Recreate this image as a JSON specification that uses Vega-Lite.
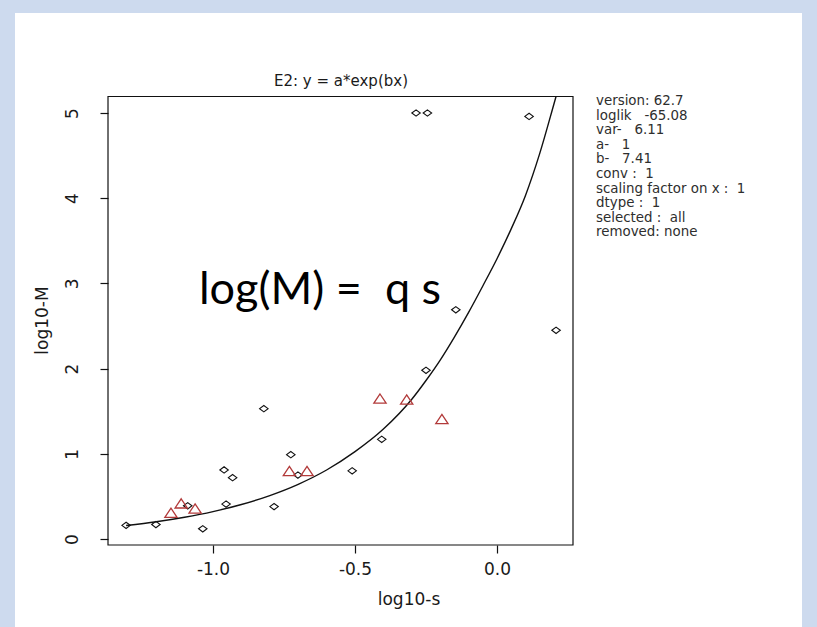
{
  "$schema": "https://vega.github.io/schema/vega-lite/v6.json",
  "width": 787,
  "height": 614,
  "autosize": {"type": "none"},
  "padding": {"left": 15, "top": 13, "right": 15, "bottom": 0},
  "background": "#cddaee",
  "config": {
    "view": {"fill": "white", "stroke": null},
    "locale": {"number": {"decimal": ".", "thousands": ",", "grouping": [3], "currency": ["", ""], "minus": "-"}}
  },
  "datasets": {
    "frame": [
      {"ls": -1.3697, "ls2": 0.2676, "lm": -0.0704, "lm2": 5.1937}
    ],
    "points": [
      {"series": "A", "ls": -1.306, "lm": 0.16},
      {"series": "A", "ls": -1.201, "lm": 0.17},
      {"series": "A", "ls": -1.089, "lm": 0.39},
      {"series": "A", "ls": -1.036, "lm": 0.12},
      {"series": "A", "ls": -0.961, "lm": 0.81},
      {"series": "A", "ls": -0.931, "lm": 0.72},
      {"series": "A", "ls": -0.954, "lm": 0.41},
      {"series": "A", "ls": -0.821, "lm": 1.53},
      {"series": "A", "ls": -0.785, "lm": 0.38},
      {"series": "A", "ls": -0.726, "lm": 0.99},
      {"series": "A", "ls": -0.701, "lm": 0.75},
      {"series": "A", "ls": -0.510, "lm": 0.80},
      {"series": "A", "ls": -0.406, "lm": 1.17},
      {"series": "A", "ls": -0.250, "lm": 1.98},
      {"series": "A", "ls": -0.145, "lm": 2.69},
      {"series": "A", "ls": 0.208, "lm": 2.45},
      {"series": "A", "ls": -0.285, "lm": 5.00},
      {"series": "A", "ls": -0.245, "lm": 5.00},
      {"series": "A", "ls": 0.113, "lm": 4.96},
      {"series": "B", "ls": -1.148, "lm": 0.29},
      {"series": "B", "ls": -1.112, "lm": 0.40},
      {"series": "B", "ls": -1.063, "lm": 0.34},
      {"series": "B", "ls": -0.731, "lm": 0.78},
      {"series": "B", "ls": -0.669, "lm": 0.78},
      {"series": "B", "ls": -0.412, "lm": 1.63},
      {"series": "B", "ls": -0.318, "lm": 1.62},
      {"series": "B", "ls": -0.194, "lm": 1.39}
    ],
    "fit": [
      {"ls": -1.306, "lm": 0.159},
      {"ls": -1.2, "lm": 0.203},
      {"ls": -1.1, "lm": 0.256},
      {"ls": -1.0, "lm": 0.322},
      {"ls": -0.9, "lm": 0.405},
      {"ls": -0.8, "lm": 0.510},
      {"ls": -0.7, "lm": 0.642},
      {"ls": -0.6, "lm": 0.810},
      {"ls": -0.5, "lm": 1.025},
      {"ls": -0.4, "lm": 1.290},
      {"ls": -0.3, "lm": 1.640},
      {"ls": -0.25, "lm": 1.860},
      {"ls": -0.2, "lm": 2.100},
      {"ls": -0.15, "lm": 2.370},
      {"ls": -0.1, "lm": 2.660},
      {"ls": -0.05, "lm": 2.970},
      {"ls": 0.0, "lm": 3.290},
      {"ls": 0.05, "lm": 3.640},
      {"ls": 0.1, "lm": 4.030},
      {"ls": 0.15, "lm": 4.520},
      {"ls": 0.2, "lm": 5.100},
      {"ls": 0.2076, "lm": 5.19}
    ],
    "notes": [
      {"kind": "main", "ls": -0.5493, "lm": 5.3756, "label": "E2: y = a*exp(bx)"},
      {"kind": "big", "ls": -1.0493, "lm": 2.758, "label": "log(M) =\u00a0\u00a0q s"},
      {"kind": "info", "ls": 0.3486, "lm": 5.223, "label": ""}
    ]
  },
  "layer": [
    {
      "data": {"name": "frame"},
      "mark": {"type": "rect", "filled": false, "stroke": "#111111", "strokeWidth": 1.2},
      "encoding": {
        "x": {
          "field": "ls", "type": "quantitative",
          "scale": {"domain": [-1.69718, 1.07394], "nice": false, "zero": false},
          "axis": {
            "values": [-1, -0.5, 0],
            "format": ".1f",
            "offset": -82,
            "domain": false,
            "grid": false,
            "tickSize": 8,
            "tickColor": "#111111",
            "tickWidth": 1.2,
            "labelFlush": false,
            "labelFont": "DejaVu Sans",
            "labelFontSize": 17,
            "labelColor": "#1a1a1a",
            "labelPadding": 8,
            "title": "log10-s",
            "titleFont": "DejaVu Sans",
            "titleFontSize": 17,
            "titleFontWeight": "normal",
            "titleColor": "#1a1a1a",
            "titlePadding": 14
          }
        },
        "x2": {"field": "ls2"},
        "y": {
          "field": "lm", "type": "quantitative",
          "scale": {"domain": [-1.03286, 6.17371], "nice": false, "zero": false},
          "axis": {
            "values": [0, 1, 2, 3, 4, 5],
            "format": "d",
            "offset": -93,
            "domain": false,
            "grid": false,
            "tickSize": 8,
            "tickColor": "#111111",
            "tickWidth": 1.2,
            "labelFlush": false,
            "labelAngle": -90,
            "labelAlign": "center",
            "labelBaseline": "bottom",
            "labelFont": "DejaVu Sans",
            "labelFontSize": 17,
            "labelColor": "#1a1a1a",
            "labelPadding": 19,
            "title": "log10-M",
            "titleFont": "DejaVu Sans",
            "titleFontSize": 17,
            "titleFontWeight": "normal",
            "titleColor": "#1a1a1a",
            "titlePadding": 12
          }
        },
        "y2": {"field": "lm2"}
      }
    },
    {
      "data": {"name": "fit"},
      "mark": {"type": "line", "color": "#111111", "strokeWidth": 1.4, "interpolate": "monotone"},
      "encoding": {
        "x": {"field": "ls", "type": "quantitative"},
        "y": {"field": "lm", "type": "quantitative"}
      }
    },
    {
      "data": {"name": "points"},
      "transform": [{"filter": "datum.series === 'A'"}],
      "mark": {"type": "point", "shape": "M-1,0L0,-0.75L1,0L0,0.75Z", "size": 72, "filled": false, "stroke": "#111111", "strokeWidth": 1.1, "opacity": 1},
      "encoding": {
        "x": {"field": "ls", "type": "quantitative"},
        "y": {"field": "lm", "type": "quantitative"}
      }
    },
    {
      "data": {"name": "points"},
      "transform": [{"filter": "datum.series === 'B'"}],
      "mark": {"type": "point", "shape": "M0,-1L1,0.5L-1,0.5Z", "size": 150, "filled": false, "stroke": "#b23a3a", "strokeWidth": 1.3, "opacity": 1},
      "encoding": {
        "x": {"field": "ls", "type": "quantitative"},
        "y": {"field": "lm", "type": "quantitative"}
      }
    },
    {
      "data": {"name": "notes"},
      "transform": [{"filter": "datum.kind === 'main'"}],
      "mark": {"type": "text", "font": "DejaVu Sans", "fontSize": 15, "align": "center", "baseline": "middle", "color": "#1a1a1a"},
      "encoding": {
        "x": {"field": "ls", "type": "quantitative"},
        "y": {"field": "lm", "type": "quantitative"},
        "text": {"field": "label", "type": "nominal"}
      }
    },
    {
      "data": {"name": "notes"},
      "transform": [{"filter": "datum.kind === 'big'"}],
      "mark": {"type": "text", "font": "Lato", "fontSize": 45, "align": "left", "baseline": "alphabetic", "color": "#000000"},
      "encoding": {
        "x": {"field": "ls", "type": "quantitative"},
        "y": {"field": "lm", "type": "quantitative"},
        "text": {"field": "label", "type": "nominal"}
      }
    },
    {
      "data": {"name": "notes"},
      "transform": [{"filter": "datum.kind === 'info'"}],
      "mark": {"type": "text", "font": "DejaVu Sans", "fontSize": 13.4, "align": "left", "baseline": "top", "lineHeight": 14.6, "color": "#2e2e2e"},
      "encoding": {
        "x": {"field": "ls", "type": "quantitative"},
        "y": {"field": "lm", "type": "quantitative"},
        "text": {"value": [
          "version: 62.7",
          "loglik\u00a0\u00a0\u00a0-65.08",
          "var-\u00a0\u00a0\u00a06.11",
          "a-\u00a0\u00a0\u00a01",
          "b-\u00a0\u00a0\u00a07.41",
          "conv :\u00a0\u00a01",
          "scaling factor on x :\u00a0\u00a01",
          "dtype :\u00a0\u00a01",
          "\u00a0selected :\u00a0\u00a0all",
          "removed: none"
        ]}
      }
    }
  ]
}
